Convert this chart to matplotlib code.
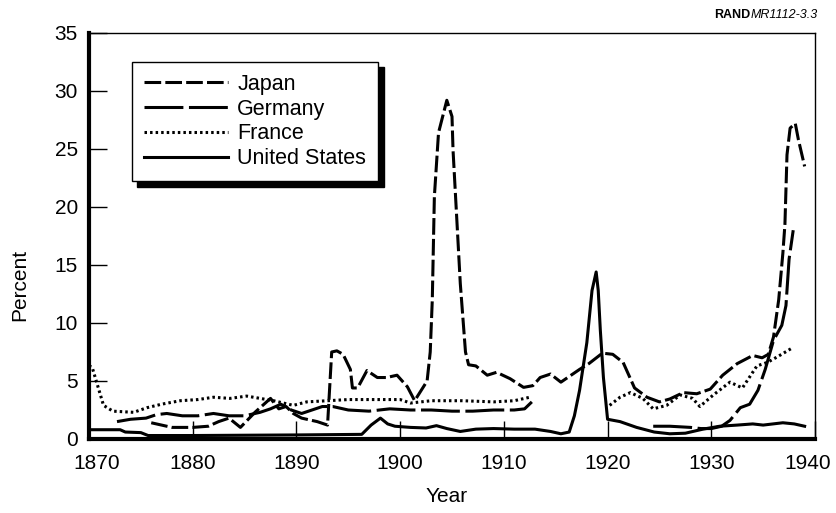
import numpy as np
import matplotlib
matplotlib.use('Agg')
import matplotlib.pyplot as plt
from matplotlib.transforms import ScaledTranslation

plt.rcParams['font.family'] = ['Liberation Sans', 'DejaVu Sans']
plt.rcParams['lines.scale_dashes'] = False

nan = np.nan

# Japan (short dashes)
jp_years = [1876, 1877, 1878, 1880, 1881.5, 1882.5, 1883.5, 1884.6, 1886, 1887.5,
            1888.3, 1889, 1889.7, 1890.5, 1892, 1893, 1893.4, 1893.9, 1894.5, 1895.2,
            1895.4, 1895.9, 1896.8, 1897.8, 1898.7, 1899.7, 1900.7, 1901.4, 1902.6, 1902.9,
            1903.1, 1903.3, 1903.7, 1904.5, 1905.0, 1905.1, 1905.8, 1906.3, 1906.6, 1907.3,
            1908.4, 1909.3, 1910.6, 1911.9, 1912.8, 1913.5, 1914.5, 1915.5, 1917.3, 1918.2,
            1919.5, 1920.5, 1921.5, 1922.6, 1923.8, 1925, 1926, 1927.3, 1928.6, 1929.9,
            1931.1, 1932.5, 1934, 1934.9, 1935.5, 1936, 1936.5, 1936.9, 1937.1, 1937.3,
            1937.6, 1938.1, 1938.4, 1939]
jp_vals = [1.4, 1.2, 1.0, 1.0, 1.1, 1.5, 1.8, 1.0, 2.3, 3.5,
           2.6, 2.8, 2.2, 1.8, 1.5, 1.2, 7.5, 7.6, 7.3, 6.0,
           4.4, 4.4, 5.9, 5.3, 5.3, 5.5, 4.5, 3.3, 5.0, 7.5,
           12.0, 20.9, 26.4, 29.2, 27.8, 24.9, 13.4, 7.5, 6.4, 6.3,
           5.5, 5.75, 5.2, 4.45, 4.6, 5.3, 5.6, 4.9, 6.0, 6.5,
           7.4, 7.3, 6.6, 4.4, 3.6, 3.2, 3.45, 4.0, 3.9, 4.3,
           5.5, 6.5, 7.2, 7.0, 7.3, 8.8, 12.0, 16.0, 18.5, 24.5,
           26.8, 27.2, 25.8, 23.5]

# Germany (long dashes), gap for the war years
de_years = [1872.7, 1874, 1875.5, 1876.5, 1877.5, 1879, 1880.5, 1882, 1883.5, 1885,
            1886.5, 1887.5, 1888.5, 1889.5, 1890.5, 1891.5, 1892.5, 1893.5, 1895, 1897,
            1899, 1901, 1903, 1905, 1907, 1909, 1911, 1912, 1912.7, nan,
            1924.4, 1926, 1928, 1929, 1930, 1931, 1931.8, 1932.8, 1933.7, 1934.5,
            1935.2, 1936, 1936.8, 1937.2, 1937.5, 1937.9]
de_vals = [1.5, 1.7, 1.8, 2.1, 2.2, 2.0, 2.0, 2.2, 2.0, 2.0,
           2.3, 2.6, 3.0, 2.5, 2.2, 2.5, 2.8, 2.8, 2.5, 2.4,
           2.6, 2.5, 2.5, 2.4, 2.4, 2.5, 2.5, 2.6, 3.2, nan,
           1.1, 1.1, 1.0, 0.9, 0.9, 1.1, 1.6, 2.7, 3.0, 4.2,
           6.0, 8.5, 9.8, 11.5, 15.5, 18.0]

# France (dotted)
fr_years = [1870, 1870.3, 1870.9, 1871.4, 1872.3, 1874.3, 1875.6, 1877, 1878.8, 1880.5,
            1882, 1883.6, 1885.2, 1886.5, 1887.8, 1889.7, 1891, 1893, 1895, 1898,
            1900, 1901, 1903, 1906, 1909, 1911, 1912.5, nan,
            1920.2, 1921.2, 1922.2, 1923.4, 1924.4, 1925.7, 1927, 1928.2, 1928.9, 1930.2,
            1931.8, 1933, 1934.4, 1935.4, 1936.4, 1937.9]
fr_vals = [6.3, 6.2, 4.4, 2.9, 2.4, 2.3, 2.7, 3.0, 3.3, 3.4,
           3.6, 3.5, 3.7, 3.5, 3.3, 2.9, 3.2, 3.3, 3.4, 3.4,
           3.4, 3.1, 3.3, 3.3, 3.2, 3.3, 3.6, nan,
           2.9, 3.6, 4.0, 3.5, 2.6, 2.9, 3.8, 3.5, 2.8, 3.8,
           4.9, 4.4, 6.3, 6.6, 7.1, 7.9]

# United States (solid)
us_years = [1870, 1873, 1873.5, 1875, 1875.7, 1880, 1890, 1896.3, 1897.2, 1898.1,
            1898.8, 1899.5, 1901, 1902.5, 1903.5, 1904.5, 1905.8, 1907.3, 1909, 1911,
            1913, 1914.5, 1915.5, 1916.3, 1916.8, 1917.3, 1918, 1918.5, 1918.9, 1919.1,
            1919.3, 1919.6, 1920, 1921.2, 1922.8, 1924.5, 1926, 1927.5, 1929.2, 1930.8,
            1932.5, 1934, 1935, 1936.9, 1938, 1939]
us_vals = [0.8, 0.8, 0.6, 0.55, 0.3, 0.3, 0.35, 0.4, 1.2, 1.8,
           1.3, 1.1, 1.0, 0.95, 1.15, 0.9, 0.65, 0.85, 0.9, 0.85,
           0.85, 0.65, 0.45, 0.6, 2.0, 4.2, 8.3, 12.8, 14.4, 12.8,
           9.4, 5.3, 1.7, 1.5, 1.0, 0.6, 0.45, 0.5, 0.85, 1.1,
           1.2, 1.3, 1.2, 1.4, 1.3, 1.1]

x_ticks = [1870, 1880, 1890, 1900, 1910, 1920, 1930, 1940]
y_ticks = [0, 5, 10, 15, 20, 25, 30, 35]

fig = plt.figure(figsize=(8.36, 5.13), dpi=100)
ax = fig.add_axes([89 / 836, 1 - 439 / 513, 726 / 836, 406 / 513])

lw = 2.2
ax.plot(jp_years, jp_vals, color='k', lw=lw, linestyle=(0, (12, 3)), label='Japan')
ax.plot(de_years, de_vals, color='k', lw=lw, linestyle=(0, (28, 4)), label='Germany')
ax.plot(fr_years, fr_vals, color='k', lw=lw, linestyle=(0, (1.8, 2.2)), label='France')
ax.plot(us_years, us_vals, color='k', lw=lw, linestyle='-', label='United States')

ax.set_xlim(1870, 1940)
ax.set_ylim(0, 35)
ax.set_xticks(x_ticks)
ax.set_yticks(y_ticks)
ax.tick_params(axis='both', direction='in', length=13, width=1, labelsize=15)
ax.tick_params(axis='x', pad=11)
ax.tick_params(axis='y', pad=8)

# end labels sit a little inside the frame
for lab in ax.get_xticklabels():
    if lab.get_text() == '1870':
        lab.set_transform(lab.get_transform() + ScaledTranslation(8 / 100, 0, fig.dpi_scale_trans))
    elif lab.get_text() == '1940':
        lab.set_transform(lab.get_transform() + ScaledTranslation(-7 / 100, 0, fig.dpi_scale_trans))

ax.spines['left'].set_linewidth(3)
ax.spines['bottom'].set_linewidth(3)
ax.spines['top'].set_linewidth(1)
ax.spines['right'].set_linewidth(1)

fig.text(20 / 836, 1 - 285 / 513, 'Percent', rotation=90, fontsize=15,
         ha='center', va='center')
fig.text(447 / 836, 1 - 497 / 513, 'Year', fontsize=15, ha='center', va='center')

# legend with solid drop shadow
leg = ax.legend(loc='upper left', bbox_to_anchor=(0.059, 0.929), fontsize=15.5,
                handlelength=3.9, handletextpad=0.45, labelspacing=0.18,
                borderpad=0.55, borderaxespad=0, fancybox=False,
                shadow={'color': 'black', 'alpha': 1, 'ox': 4, 'oy': -4})
leg.get_frame().set_edgecolor('black')
leg.get_frame().set_linewidth(1)

# figure id in the corner
t = fig.text(818 / 836, 1 - 15 / 513, 'MR1112-3.3', fontsize=9, style='italic',
             ha='right', va='center')
ax.annotate('RAND', xy=(0, 0.5), xycoords=t, fontsize=9, fontweight='bold',
            ha='right', va='center', annotation_clip=False)

fig.savefig('out.png', dpi=100)
plt.close(fig)
